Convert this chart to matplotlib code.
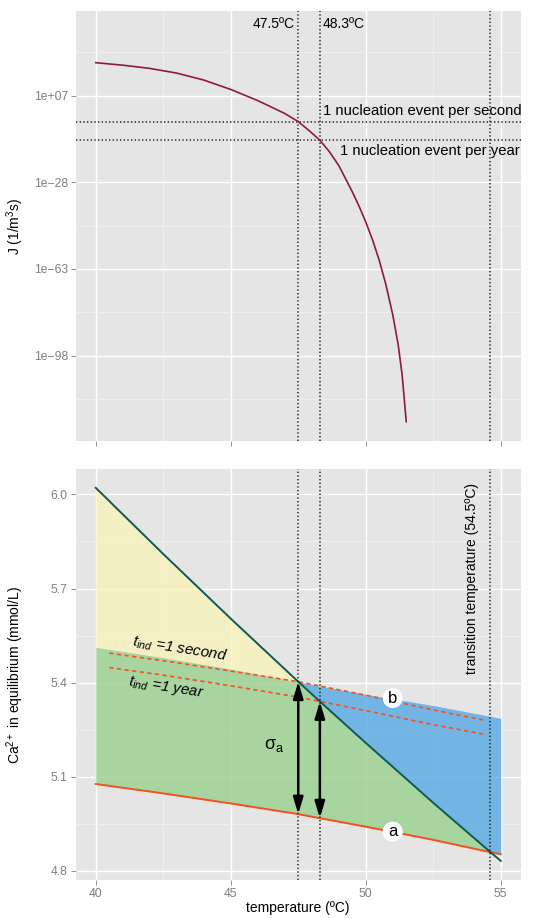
import matplotlib

matplotlib.use("Agg")
import matplotlib.pyplot as plt
import numpy as np
from matplotlib.ticker import FixedLocator, NullFormatter

plt.rcParams["font.family"] = ["Liberation Sans", "DejaVu Sans"]
plt.rcParams["mathtext.fontset"] = "custom"
plt.rcParams["mathtext.rm"] = "Liberation Sans"
plt.rcParams["mathtext.it"] = "Liberation Sans:italic"

PANEL, MINOR = "#e5e5e5", "#f2f2f2"
TICK = "#7f7f7f"
CURVE, TEAL, ORANGE = "#8e1b3f", "#0f5a50", "#f4511e"
YELLOW, GREEN, BLUE = "#f8f4bc", "#99d08f", "#55aae6"

# nucleation rate J (log10 of 1/m^3 s) vs temperature
temp_j = [40, 41, 42, 43, 44, 45, 46, 47, 47.5, 47.9, 48.3, 48.65, 49.0,
          49.25, 49.5, 49.75, 50.0, 50.25, 50.5, 50.75, 51.0, 51.2, 51.35, 51.5]
log_j = [20.3, 19.3, 18.0, 16.1, 13.3, 9.5, 5.0, -0.2, -3.5, -7.1, -11.0,
         -15.6, -21.2, -26.5, -31.8, -37.6, -44.0, -51.2, -59.5, -69.5, -81.5,
         -93.5, -106.0, -124.7]
log_per_second, log_per_year = -3.5, -11.0
t_second, t_year, t_transition = 47.5, 48.3, 54.6

# Ca2+ in equilibrium (mmol/L)
temp_ca = [40, 42.5, 45, 47.5, 48.3, 50, 52.5, 54.6, 55]
ca_a = [5.077, 5.047, 5.015, 4.981, 4.968, 4.941, 4.899, 4.860, 4.853]
ca_dark = [6.021, 5.810, 5.604, 5.403, 5.340, 5.208, 5.017, 4.861, 4.832]
ca_b = [5.513, 5.480, 5.444, 5.403, 5.389, 5.363, 5.327, 5.293, 5.286]
temp_ind = [40.5, 42.5, 45, 47.5, 50, 52.5, 54.35]
ind_second = [5.494, 5.470, 5.437, 5.403, 5.360, 5.313, 5.281]
ind_year = [5.448, 5.424, 5.390, 5.354, 5.311, 5.266, 5.236]

x_ticks = [40, 45, 50, 55]
j_tick_exp = [7, -28, -63, -98]
j_tick_lab = ["1e+07", "1e\u221228", "1e\u221263", "1e\u221298"]
ca_ticks = [4.8, 5.1, 5.4, 5.7, 6.0]

DOT = dict(color="#222222", lw=1.1, ls=(0, (0.9, 1.5)), zorder=3)


def _style(ax):
    ax.set_facecolor(PANEL)
    for s in ax.spines.values():
        s.set_visible(False)
    ax.set_axisbelow(True)
    ax.grid(True, which="major", color="white", lw=1.0)
    ax.grid(True, which="minor", color=MINOR, lw=0.6)
    ax.tick_params(which="major", colors=TICK, labelcolor=TICK, labelsize=8.7,
                   length=3.5, width=0.6, pad=2)
    ax.tick_params(which="minor", length=0)
    ax.set_xlim(39.25, 55.75)
    ax.set_xticks(x_ticks)
    ax.xaxis.set_minor_locator(FixedLocator([42.5, 47.5, 52.5]))


def _ylabel(ax, text):
    ax.set_ylabel(text, fontsize=10)
    ax.yaxis.set_label_coords(-60.5 / 445.5, 0.5)
    ax.yaxis.label.set_va("center")


fig = plt.figure(figsize=(5.38, 9.18), dpi=100)
ax1 = fig.add_axes([75.5 / 538, 1 - 441.3 / 918, 445.5 / 538, 430 / 918])
ax2 = fig.add_axes([75.5 / 538, 1 - 880 / 918, 445.5 / 538, 410.7 / 918])

# --- top: nucleation rate
_style(ax1)
ax1.set_yscale("log")
ax1.set_ylim(10 ** -132.6, 10 ** 41.06)
ax1.yaxis.set_major_locator(FixedLocator([10.0 ** e for e in j_tick_exp]))
ax1.set_yticklabels(j_tick_lab)
ax1.yaxis.set_minor_locator(FixedLocator([10.0 ** (e + 17.5) for e in j_tick_exp]
                                         + [10.0 ** -115.5]))
ax1.yaxis.set_minor_formatter(NullFormatter())
ax1.tick_params(labelbottom=False)
ax1.plot(temp_j, 10.0 ** np.array(log_j), color=CURVE, lw=1.2, zorder=4)
for t in (t_second, t_year, t_transition):
    ax1.axvline(t, **DOT)
for lj in (log_per_second, log_per_year):
    ax1.axhline(10.0 ** lj, **DOT)
ax1.text(t_second - 0.12, 10 ** 35.9, "47.5ºC", ha="right", va="center", fontsize=10)
ax1.text(t_year + 0.12, 10 ** 35.9, "48.3ºC", ha="left", va="center", fontsize=10)
ax1.text(t_year + 0.1, 10 ** 0.9, "1 nucleation event per second", ha="left",
         va="center", fontsize=10.7)
ax1.text(55.72, 10 ** -15.4, "1 nucleation event per year", ha="right",
         va="center", fontsize=10.7)
_ylabel(ax1, "J (1/m$^3$s)")

# --- bottom: Ca2+ equilibrium
_style(ax2)
ax2.set_ylim(4.771, 6.08)
ax2.set_yticks(ca_ticks)
ax2.set_yticklabels([f"{v:.1f}" for v in ca_ticks])
ax2.yaxis.set_minor_locator(FixedLocator([4.95, 5.25, 5.55, 5.85]))
T = np.array(temp_ca)
a, d, b = np.array(ca_a), np.array(ca_dark), np.array(ca_b)
ax2.fill_between(T, a, np.maximum(a, np.minimum(b, d)), color=GREEN, alpha=0.8,
                 lw=0, zorder=1)
ax2.fill_between(T, b, d, where=d >= b, interpolate=True, color=YELLOW,
                 alpha=0.8, lw=0, zorder=1)
ax2.fill_between(T, np.maximum(d, a), b, where=b >= d, interpolate=True,
                 color=BLUE, alpha=0.8, lw=0, zorder=1)
for t in (t_second, t_year, t_transition):
    ax2.axvline(t, **DOT)
ax2.plot(temp_ind, ind_second, color=ORANGE, lw=1.2, dashes=(2.6, 2.0), zorder=2)
ax2.plot(temp_ind, ind_year, color=ORANGE, lw=1.2, dashes=(2.6, 2.0), zorder=2)
ax2.plot(T, a, color=ORANGE, lw=1.4, zorder=2)
ax2.plot(T, d, color=TEAL, lw=1.4, zorder=2)
for t in (t_second, t_year):
    top, bot = np.interp(t, T, d), np.interp(t, T, a)
    ax2.annotate("", xy=(t, bot), xytext=(t, top),
                 arrowprops=dict(arrowstyle="<|-|>,head_length=1.0,head_width=0.3",
                                 mutation_scale=10, color="black", lw=1.8,
                                 shrinkA=0, shrinkB=0), zorder=5)
ax2.text(47.0, 5.20, "σ$_{\\rm a}$", ha="right", va="center", fontsize=13)
lab = dict(ha="center", va="center", fontsize=12, zorder=6,
           bbox=dict(boxstyle="circle,pad=0.15", fc="white", ec="none"))
ax2.text(51.0, 5.351, "b", **lab)
ax2.text(51.0, 4.925, "a", **lab)
ax2.text(43.1, 5.509, "$t_{ind}$ =1 second", style="italic", fontsize=11,
         rotation=-9, ha="center", va="center")
ax2.text(42.6, 5.385, "$t_{ind}$ =1 year", style="italic", fontsize=11,
         rotation=-9, ha="center", va="center")
ax2.text(53.95, 6.037, "transition temperature (54.5ºC)", rotation=90,
         ha="center", va="top", fontsize=10)
_ylabel(ax2, "Ca$^{2+}$ in equilibrium (mmol/L)")
ax2.set_xlabel("temperature (ºC)", fontsize=10)
ax2.xaxis.set_label_coords(0.5, -28 / 410.7)
ax2.xaxis.label.set_va("center")

fig.savefig("out.png", dpi=100)
